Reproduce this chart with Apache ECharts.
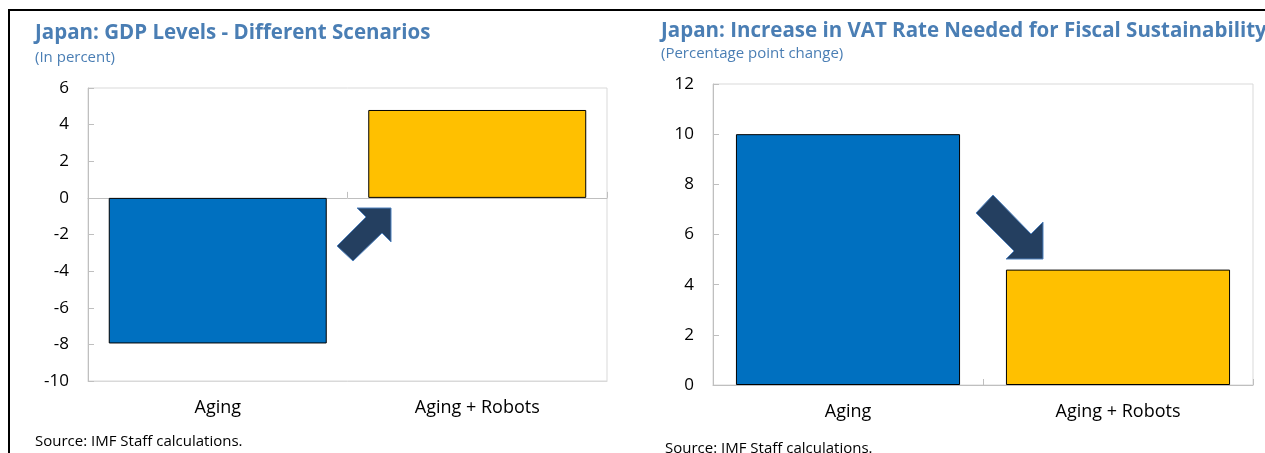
<!DOCTYPE html>
<html>
<head>
<meta charset="utf-8">
<script src="https://cdn.jsdelivr.net/npm/echarts@6/dist/echarts.min.js"></script>
<style>
html,body{margin:0;padding:0;background:#fff;}
#main{width:1265px;height:453px;}
</style>
</head>
<body>
<div id="main"></div>
<script>
// ---- Data ----
var categories = ['Aging', 'Aging + Robots'];
var gdpLevels = [-7.95, 4.8];          // percent
var vatIncrease = [10.0, 4.6];         // percentage points
var barColors = ['#0070C0', '#FFC000'];
var gdpTicks = {min: -10, max: 6, interval: 2};
var vatTicks = {min: 0, max: 12, interval: 2};

var titleColor = '#4A7EB4';
var fontFam = '"Open Sans", "Noto Sans", sans-serif';

var chart = echarts.init(document.getElementById('main'), null, {renderer: 'canvas'});

function barData(vals) {
  return vals.map(function (v, i) {
    return {value: v, itemStyle: {color: barColors[i]}};
  });
}

var yAxisCommon = {
  type: 'value',
  axisLine: {show: true, lineStyle: {color: '#BFBFBF', width: 1}},
  axisTick: {show: true, inside: true, length: 6, lineStyle: {color: '#BFBFBF'}},
  splitLine: {show: false},
  axisLabel: {color: '#000', fontSize: 17, fontFamily: fontFam, margin: 19}
};

var option = {
  animation: false,
  backgroundColor: '#fff',
  title: [
    {text: 'Japan: GDP Levels - Different Scenarios', left: 30, top: 18,
     textStyle: {color: titleColor, fontSize: 20.5, fontWeight: 'bold', fontFamily: fontFam}},
    {text: '(In percent)', left: 30, top: 45,
     textStyle: {color: titleColor, fontSize: 15, fontWeight: 'normal', fontFamily: fontFam}},
    {text: 'Japan: Increase in VAT Rate Needed for Fiscal Sustainability', left: 656, top: 16,
     textStyle: {color: titleColor, fontSize: 20.5, fontWeight: 'bold', fontFamily: fontFam}},
    {text: '(Percentage point change)', left: 656, top: 41,
     textStyle: {color: titleColor, fontSize: 15, fontWeight: 'normal', fontFamily: fontFam}},
    {text: 'Source: IMF Staff calculations.', left: 30, top: 429,
     textStyle: {color: '#000', fontSize: 15, fontWeight: 'normal', fontFamily: fontFam}},
    {text: 'Source: IMF Staff calculations.', left: 660, top: 436,
     textStyle: {color: '#000', fontSize: 15, fontWeight: 'normal', fontFamily: fontFam}}
  ],
  grid: [
    {left: 88, right: 658, top: 88, bottom: 72, show: true, borderColor: '#D9D9D9', borderWidth: 1, backgroundColor: 'transparent'},
    {left: 713, right: 12, top: 84, bottom: 68, show: true, borderColor: '#D9D9D9', borderWidth: 1, backgroundColor: 'transparent'}
  ],
  xAxis: [
    {type: 'category', gridIndex: 0, data: categories, position: 'bottom',
     axisLine: {show: true, onZero: false, lineStyle: {color: '#D9D9D9'}},
     axisTick: {show: false},
     axisLabel: {color: '#000', fontSize: 18, fontFamily: fontFam, margin: 18}},
    {type: 'category', gridIndex: 0, data: categories, position: 'bottom',
     axisLine: {show: true, onZero: true, lineStyle: {color: '#BFBFBF'}},
     axisTick: {show: true, inside: true, length: 6, lineStyle: {color: '#BFBFBF'}},
     axisLabel: {show: false}},
    {type: 'category', gridIndex: 1, data: categories, position: 'bottom',
     axisLine: {show: true, lineStyle: {color: '#BFBFBF'}},
     axisTick: {show: true, inside: true, length: 6, lineStyle: {color: '#BFBFBF'}},
     axisLabel: {color: '#000', fontSize: 18, fontFamily: fontFam, margin: 18}}
  ],
  yAxis: [
    Object.assign({}, yAxisCommon, {gridIndex: 0, min: gdpTicks.min, max: gdpTicks.max, interval: gdpTicks.interval}),
    Object.assign({}, yAxisCommon, {gridIndex: 1, min: vatTicks.min, max: vatTicks.max, interval: vatTicks.interval})
  ],
  series: [
    {type: 'bar', xAxisIndex: 0, yAxisIndex: 0, data: barData(gdpLevels),
     barCategoryGap: '16%', itemStyle: {borderColor: '#000', borderWidth: 1}},
    {type: 'bar', xAxisIndex: 2, yAxisIndex: 1, data: barData(vatIncrease),
     barCategoryGap: '17%', itemStyle: {borderColor: '#000', borderWidth: 1}}
  ],
  graphic: [
    // panel frame (top and left black lines)
    {type: 'line', shape: {x1: 8, y1: 10, x2: 1265, y2: 10}, style: {stroke: '#000', lineWidth: 2}, z: 100},
    {type: 'line', shape: {x1: 9, y1: 10, x2: 9, y2: 453}, style: {stroke: '#000', lineWidth: 2}, z: 100},
    // arrow (up-right) on left chart
    {type: 'polygon', z: 100,
     shape: {points: [[337, 246], [366, 217], [357, 208], [391, 208], [391, 242], [382, 233], [353, 261]]},
     style: {fill: '#243F60', stroke: '#4F81BD', lineWidth: 1}},
    // arrow (down-right) on right chart
    {type: 'polygon', z: 100,
     shape: {points: [[993, 195], [1031, 234], [1043, 222], [1043, 259], [1006, 259], [1014, 251], [976, 213]]},
     style: {fill: '#243F60', stroke: '#4F81BD', lineWidth: 1}}
  ]
};

chart.setOption(option);
</script>
</body>
</html>
